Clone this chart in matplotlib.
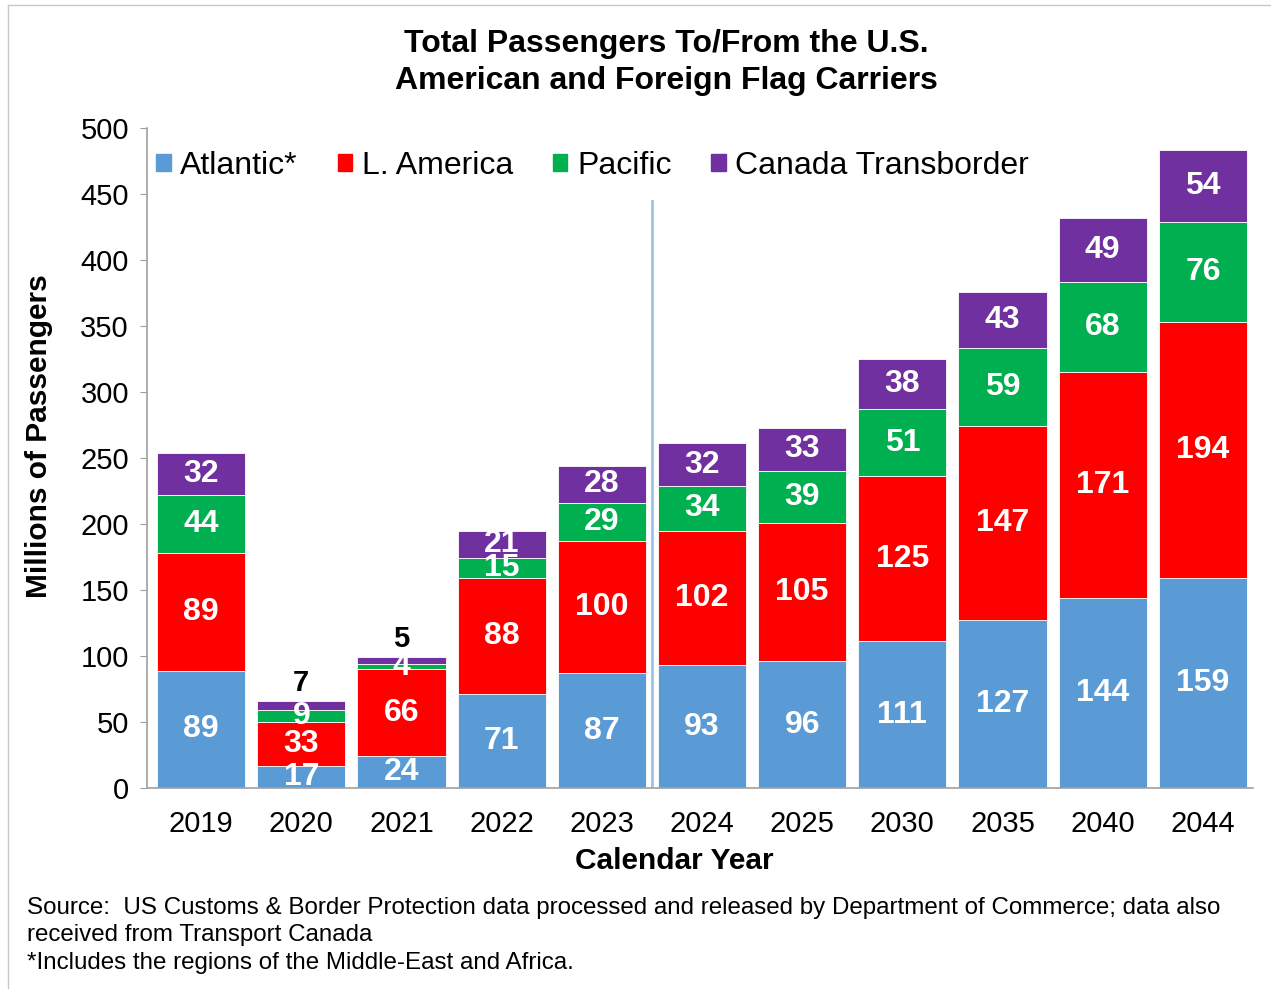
import matplotlib.pyplot as plt
import numpy as np
from matplotlib.lines import Line2D

plt.rcParams['font.family'] = ['Liberation Sans', 'DejaVu Sans']

years = ['2019', '2020', '2021', '2022', '2023', '2024', '2025', '2030', '2035', '2040', '2044']
atlantic = [89, 17, 24, 71, 87, 93, 96, 111, 127, 144, 159]
latin_america = [89, 33, 66, 88, 100, 102, 105, 125, 147, 171, 194]
pacific = [44, 9, 4, 15, 29, 34, 39, 51, 59, 68, 76]
canada = [32, 7, 5, 21, 28, 32, 33, 38, 43, 49, 54]

series = [
    ('Atlantic*', atlantic, '#5B9BD5'),
    ('L. America', latin_america, '#FF0000'),
    ('Pacific', pacific, '#00B050'),
    ('Canada Transborder', canada, '#7030A0'),
]
# segments too thin for an inside label get a black one above the bar
outside = {(1, 3), (2, 3)}

fig = plt.figure(figsize=(12.71, 9.89), dpi=100)
W, H = 1271, 989
ax = fig.add_axes([147 / W, 1 - 788 / H, 1106 / W, 660 / H])

x = np.arange(len(years))
bottom = np.zeros(len(years))
for si, (name, vals, col) in enumerate(series):
    vals = np.array(vals, dtype=float)
    ax.bar(x, vals, 0.88, bottom=bottom, color=col, edgecolor='white',
           linewidth=0.6, label=name)
    for i, v in enumerate(vals):
        if (i, si) in outside:
            ax.annotate(f'{v:.0f}', (x[i], bottom[i] + v), xytext=(0, 3),
                        textcoords='offset points', ha='center', va='bottom',
                        fontsize=21, fontweight='bold', color='black')
        else:
            ax.text(x[i], bottom[i] + v / 2, f'{v:.0f}', ha='center', va='center',
                    fontsize=23, fontweight='bold', color='white')
    bottom += vals

# divider between actual and forecast years
ax.plot([4.5, 4.5], [0, 445], color='#9DC3E6', lw=2)

ax.set_xlim(-0.54, 10.5)
ax.set_ylim(0, 500)
ax.set_yticks(range(0, 501, 50))
ax.set_xticks(x)
ax.set_xticklabels(years)
ax.tick_params(axis='y', labelsize=21, length=5, color='#A0A0A0', pad=8)
ax.tick_params(axis='x', labelsize=21, length=0, pad=16)
for s in ['top', 'right']:
    ax.spines[s].set_visible(False)
for s in ['left', 'bottom']:
    ax.spines[s].set_color('#A0A0A0')
    ax.spines[s].set_linewidth(1.2)

ax.set_ylabel('Millions of Passengers', fontsize=21.5, fontweight='bold')
ax.yaxis.set_label_coords(-0.085, 0.533)
ax.set_xlabel('Calendar Year', fontsize=21.5, fontweight='bold')
ax.xaxis.set_label_coords(0.477, -0.09)

handles = [plt.Rectangle((0, 0), 1, 1, color=c) for _, _, c in series]
ax.legend(handles, [n for n, _, _ in series], loc='upper left',
          bbox_to_anchor=(-0.003, 0.985), ncol=4, frameon=False, fontsize=23,
          handlelength=0.45, handleheight=0.45, handletextpad=0.3,
          columnspacing=1.25, borderaxespad=0)

fig.text(666 / W, 1 - 44 / H, 'Total Passengers To/From the U.S.', ha='center',
         va='center', fontsize=23, fontweight='bold')
fig.text(666 / W, 1 - 81 / H, 'American and Foreign Flag Carriers', ha='center',
         va='center', fontsize=23, fontweight='bold')

notes = ['Source:  US Customs & Border Protection data processed and released by Department of Commerce; data also',
         'received from Transport Canada',
         '*Includes the regions of the Middle-East and Africa.']
for k, line in enumerate(notes):
    fig.text(27 / W, 1 - (908 + 27.5 * k) / H, line, ha='left', va='center', fontsize=17.4)

# thin frame lines at the left and top
fig.add_artist(Line2D([8 / W, 8 / W], [0, 1 - 5 / H], color='#C8C8C8', lw=1))
fig.add_artist(Line2D([8 / W, 1], [1 - 5 / H, 1 - 5 / H], color='#C8C8C8', lw=1))

fig.savefig('out.png', dpi=100)
